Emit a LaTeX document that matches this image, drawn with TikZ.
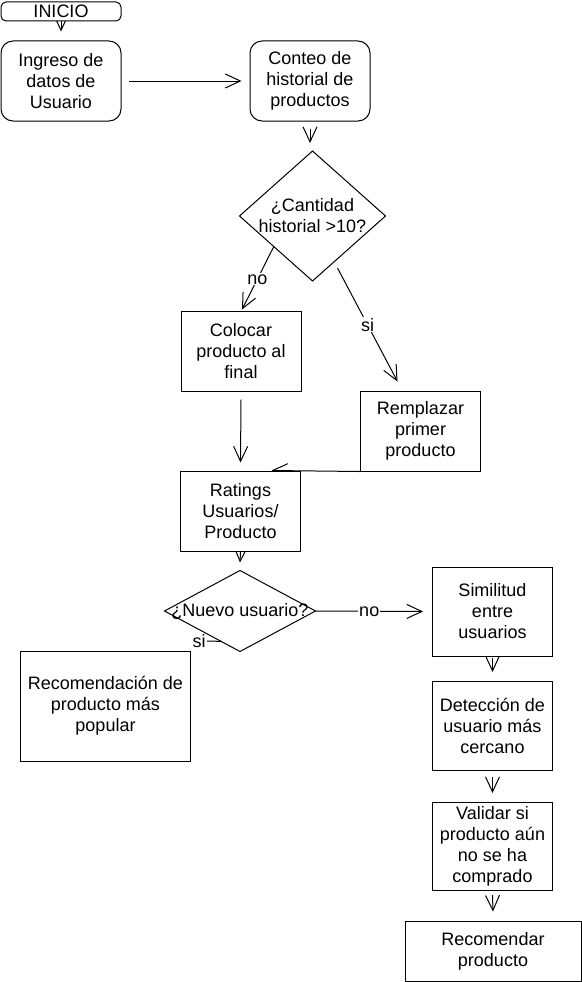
\documentclass[tikz,border=0pt]{standalone}
\usepackage{fontspec}
\setmainfont{Liberation Sans}
\usetikzlibrary{arrows.meta}
\usetikzlibrary{calc}
\usetikzlibrary{backgrounds}
\tikzset{>={Straight Barb[length=15pt,width=14pt]},
         caja/.style = {draw, fill=white, align=center, inner sep=0pt,
                        minimum width=120pt, minimum height=80pt},
         inicial/.style = {caja, rounded corners=12pt},
         pregunta/.style = {align=center, inner sep=0pt},
         etiqueta/.style = {fill=white, inner sep=1pt}}

\begin{document}
\begin{tikzpicture}[x=1pt, y=-1pt, line width=1pt, font=\fontsize{18}{21}\selectfont]
      \useasboundingbox (0, 0) rectangle (581, 982);

      \node [inicial, rounded corners=5pt, minimum height=19pt] (inicio) at (61, 11.5) {INICIO};
      \node [inicial] (ingreso) at (61, 81) {Ingreso de\\datos de\\Usuario};
      \node [inicial] (conteo) at (310, 81) {Conteo de\\historial de\\productos};

      \node [pregunta, minimum width=145pt, minimum height=129pt] (cantidad) at (312.5, 216) {¿Cantidad\\historial >10?};
      \draw (cantidad.north) -- (cantidad.east) -- (cantidad.south) -- (cantidad.west) -- cycle;

      \node [caja] (colocar) at (241, 351) {Colocar\\producto al\\final};
      \node [caja] (remplazar) at (420.5, 431) {Remplazar\\primer\\producto};
      \node [caja] (ratings) at (240.5, 511) {Ratings\\Usuarios/\\Producto};

      \node [pregunta, minimum width=150pt, minimum height=80pt] (nuevo) at (240, 611) {¿Nuevo usuario?};
      \draw (nuevo.north) -- (nuevo.east) -- (nuevo.south) -- (nuevo.west) -- cycle;

      \node [caja, minimum width=170pt, minimum height=110pt] (popular) at (105.5, 706) {Recomendación de\\producto más\\popular};
      \node [caja, minimum height=89pt] (similitud) at (492.5, 611.5) {Similitud\\entre\\usuarios};
      \node [caja, minimum height=89pt] (cercano) at (492.5, 726) {Detección de\\usuario más\\cercano};
      \node [caja, minimum height=88pt] (validar) at (492.5, 846.5) {Validar si\\producto aún\\no se ha\\comprado};
      \node [caja, minimum width=176pt, minimum height=60pt] (recomendar) at (493, 951) {Recomendar\\producto};

      \begin{scope}[on background layer, every path/.style={line width=1pt}]
        \draw [->] (inicio.south) -- ([yshift=9pt]ingreso.north);
        \draw [->] ([xshift=7pt]ingreso.east) -- ([xshift=-8pt]conteo.west);
        \draw [->] ([yshift=-7pt]conteo.south) -- ([yshift=8pt]conteo.south |- cantidad.north);

        \draw [->] ($(cantidad.west)!0.47!(cantidad.south)$) -- ([shift={(1pt,1pt)}]colocar.north) node [etiqueta, pos=0.52] {no};
        \draw [->] ($(cantidad.south)+(25,-13)$) -- ($(remplazar.north)+(-23,-9)$) node [etiqueta, pos=0.5] {si};

        \draw [->] ([yshift=-8pt]colocar.south) -- ([yshift=8pt]ratings.north);
        \draw [->] (remplazar.south west) -- ($(ratings.north)+(31,0)$);
        \draw [->] (ratings.south) -- ([yshift=8pt]nuevo.north);

        \draw [->] (nuevo.east) -- ([xshift=-9pt]similitud.west) node [etiqueta, midway] {no};
        \node [etiqueta] (si) at (199, 641) {si};
        \draw ($(nuevo.west)!0.75!(nuevo.south)$) -- (si.east);

        \draw [->] ([yshift=-1pt]similitud.south) -- ([yshift=9pt]cercano.north);
        \draw [->] ([yshift=-6pt]cercano.south) -- ([yshift=9pt]validar.north);
        \draw [->] ([yshift=-4pt]validar.south) -- ([yshift=9pt]recomendar.north);
      \end{scope}
    \end{tikzpicture}
\end{document}
